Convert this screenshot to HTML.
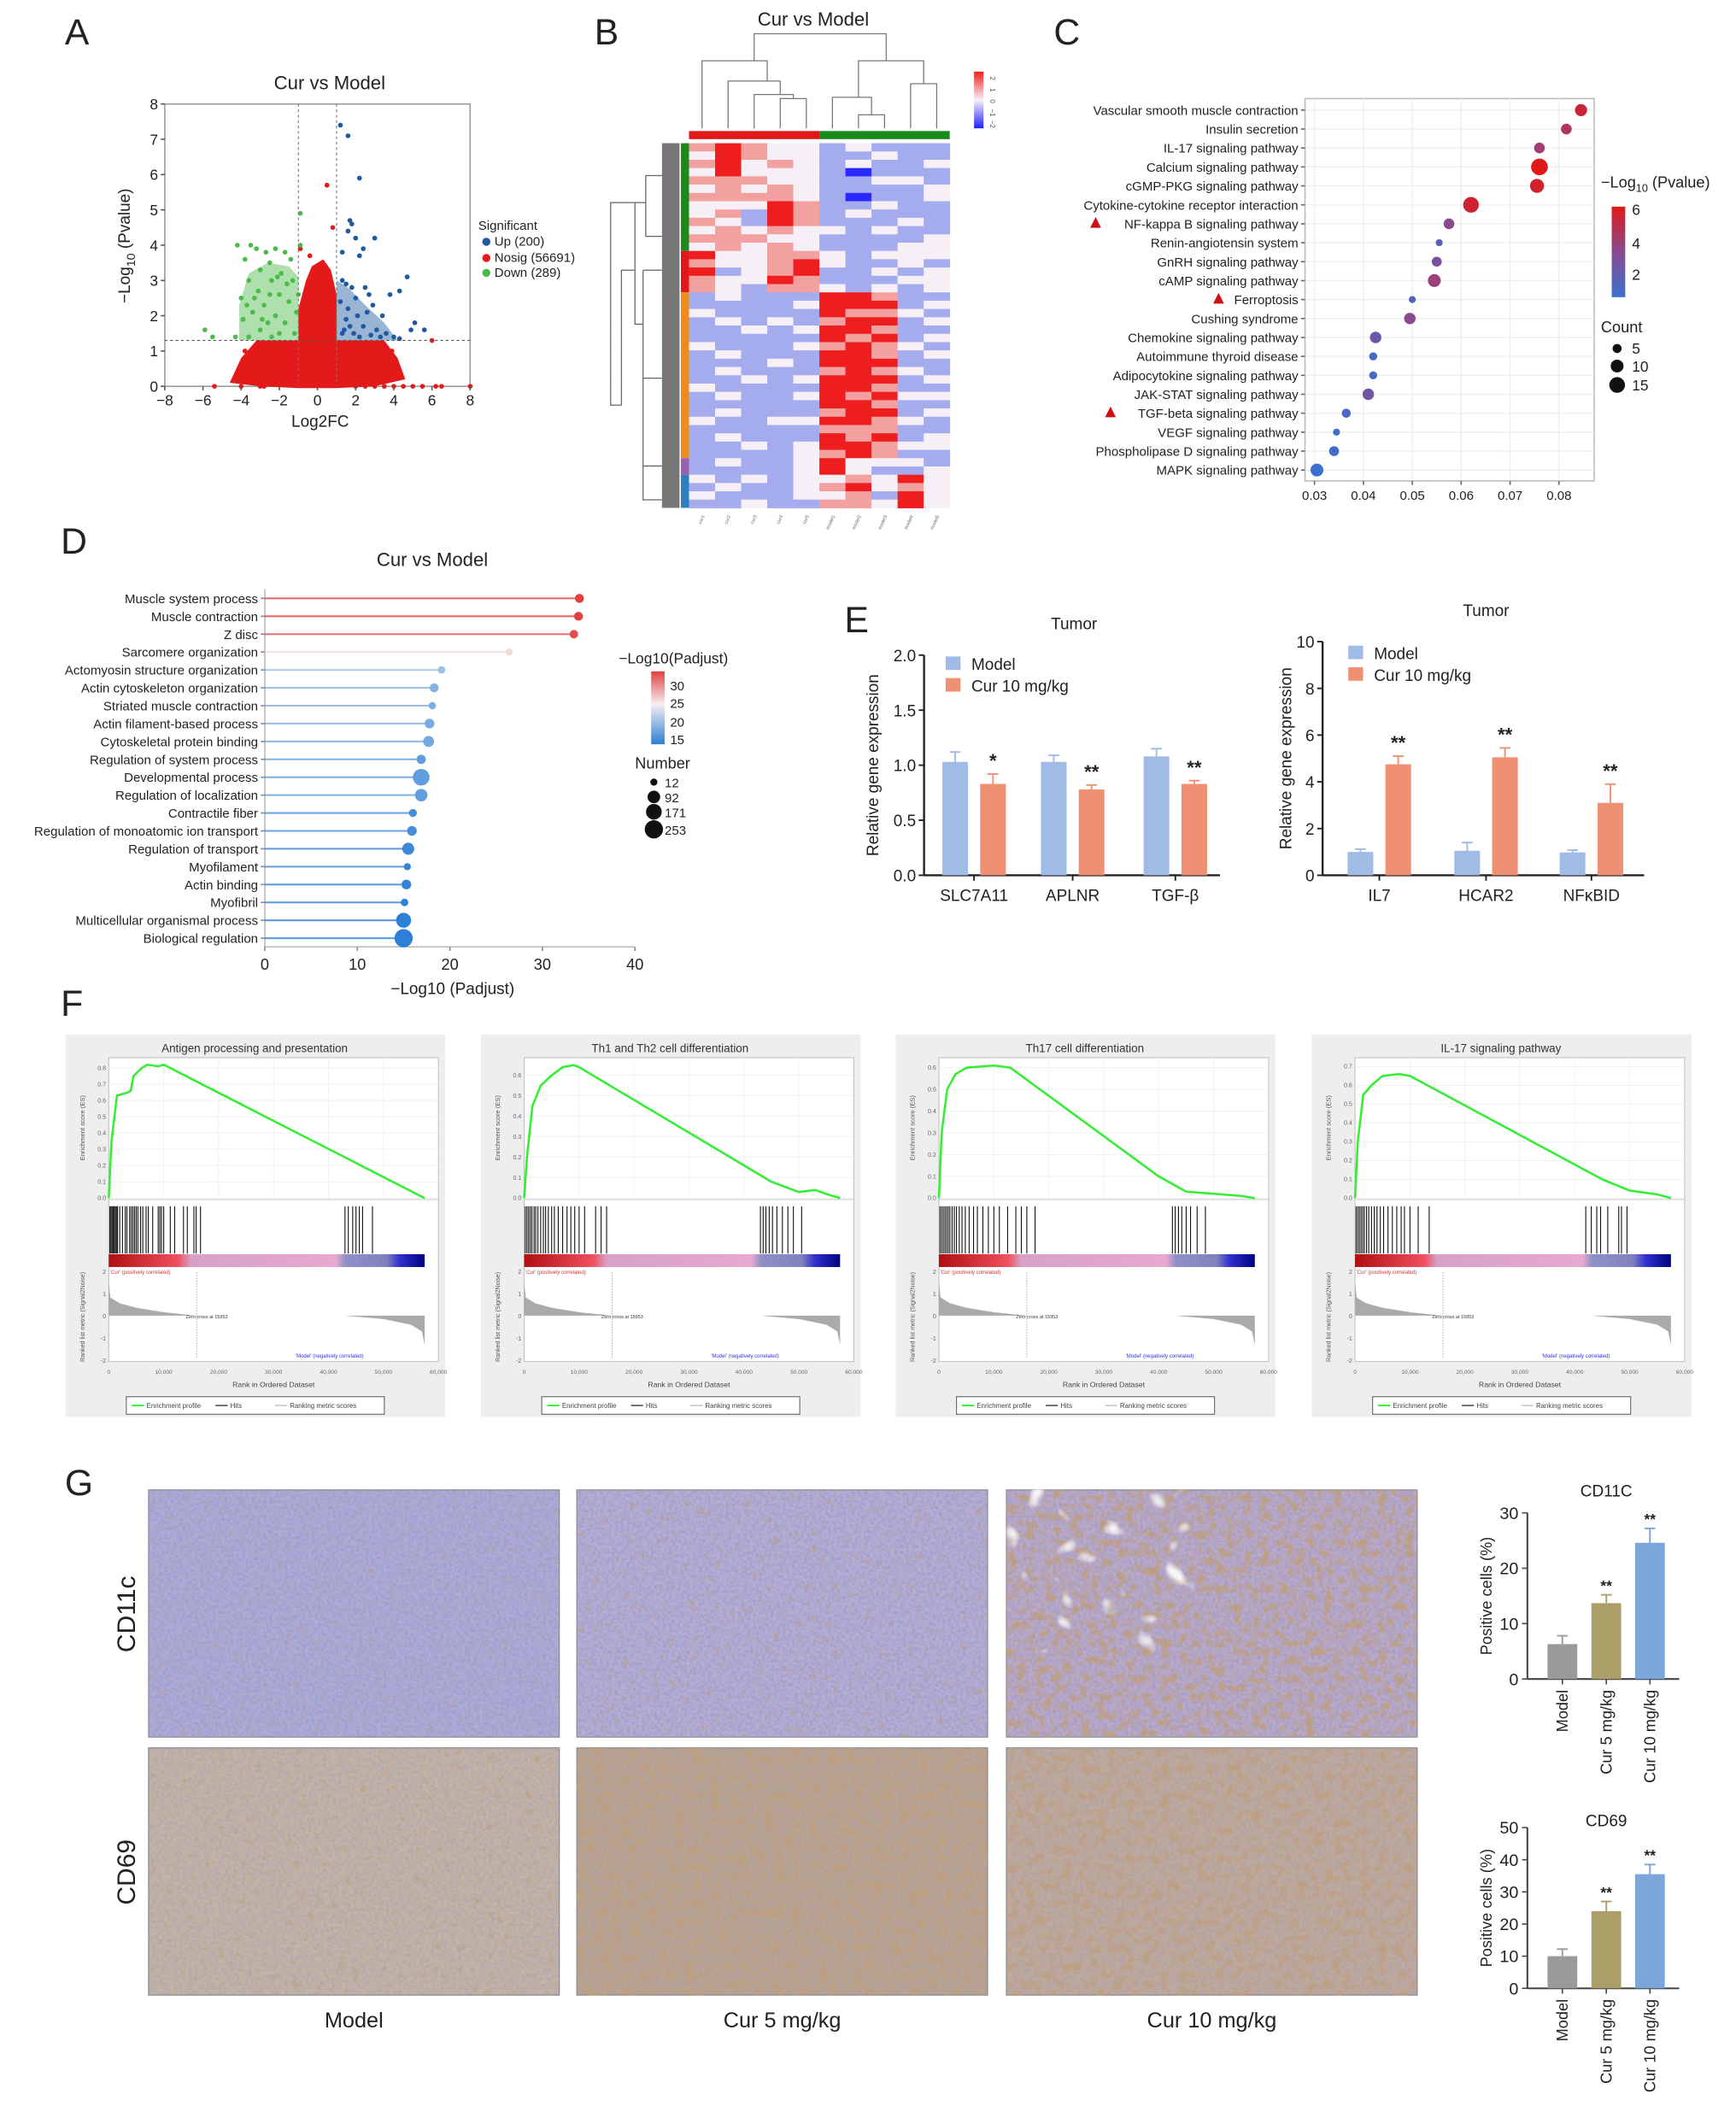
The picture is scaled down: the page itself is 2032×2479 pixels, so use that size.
<!DOCTYPE html>
<html><head><meta charset="utf-8"><title>Figure</title>
<style>html,body{margin:0;padding:0;background:#fff}svg{display:block}text{font-family:"Liberation Sans",Arial,sans-serif}</style>
</head><body>
<svg id="fig" xmlns="http://www.w3.org/2000/svg" width="2032" height="2479" viewBox="0 0 1285 1568" preserveAspectRatio="none">
<defs>
<linearGradient id="gC" x1="0" y1="0" x2="0" y2="1"><stop offset="0" stop-color="#e01818"/><stop offset="0.5" stop-color="#8a4a90"/><stop offset="1" stop-color="#3a70d0"/></linearGradient>
<linearGradient id="gD" x1="0" y1="0" x2="0" y2="1"><stop offset="0" stop-color="#e04040"/><stop offset="0.45" stop-color="#f6eef0"/><stop offset="1" stop-color="#2e7fd6"/></linearGradient>
<linearGradient id="gB" x1="0" y1="0" x2="0" y2="1"><stop offset="0" stop-color="#f02020"/><stop offset="0.5" stop-color="#f6f0f6"/><stop offset="1" stop-color="#2020ff"/></linearGradient>
<linearGradient id="gRank" x1="0" y1="0" x2="1" y2="0"><stop offset="0" stop-color="#b01010"/><stop offset="0.22" stop-color="#f05060"/><stop offset="0.26" stop-color="#d8a0c8"/><stop offset="0.72" stop-color="#e8a8d0"/><stop offset="0.75" stop-color="#9090c8"/><stop offset="0.88" stop-color="#8080c0"/><stop offset="0.92" stop-color="#3030d0"/><stop offset="1" stop-color="#000080"/></linearGradient>
<filter id="fBlue" x="0" y="0" width="100%" height="100%"><feTurbulence type="fractalNoise" baseFrequency="0.45" numOctaves="2" seed="3"/><feColorMatrix values="0 0 0 0 0.3  0 0 0 0 0.3  0 0 0 0 0.6  1.6 0 0 0 -0.55"/></filter>
<filter id="fBrownL" x="0" y="0" width="100%" height="100%"><feTurbulence type="fractalNoise" baseFrequency="0.18" numOctaves="3" seed="7"/><feColorMatrix values="0 0 0 0 0.5  0 0 0 0 0.33  0 0 0 0 0.2  4 0 0 0 -2.4"/></filter>
<filter id="fBrownH" x="0" y="0" width="100%" height="100%"><feTurbulence type="fractalNoise" baseFrequency="0.15" numOctaves="3" seed="11"/><feColorMatrix values="0 0 0 0 0.52  0 0 0 0 0.34  0 0 0 0 0.2  4 0 0 0 -1.9"/></filter>
<filter id="fWhite" x="0" y="0" width="100%" height="100%"><feTurbulence type="fractalNoise" baseFrequency="0.05" numOctaves="2" seed="5"/><feColorMatrix values="0 0 0 0 1  0 0 0 0 1  0 0 0 0 1  6 0 0 0 -3.9"/></filter>
</defs>
</svg>
<script>
// ---------- data arrays ----------
const volcXTicks = [-8,-6,-4,-2,0,2,4,6,8];
const volcYTicks = [0,1,2,3,4,5,6,7,8];
const volcUp = [[1.2,7.4],[1.6,7.1],[2.2,5.9],[1.7,4.7],[1.8,4.6],[1.6,4.4],[2.0,4.2],[3.0,4.2],[2.4,3.9],[1.3,3.8],[2.2,3.7],[4.7,3.1],[1.3,3.0],[1.5,2.9],[1.8,2.8],[2.5,2.8],[2.7,2.6],[3.8,2.6],[4.3,2.7],[2.9,2.3],[1.2,2.4],[1.6,2.2],[2.1,2.0],[3.4,2.0],[5.1,1.8],[4.9,1.6],[5.6,1.6],[1.5,1.9],[2.4,1.7],[3.1,1.6],[1.9,1.5],[2.8,1.45],[3.6,1.5],[1.3,1.5],[2.2,1.4],[4.0,1.4],[4.3,1.35],[1.7,1.7],[2.6,2.1],[1.4,1.6],[3.3,1.4],[2.0,2.5]];
const volcDown = [[-0.9,4.9],[-0.9,4.0],[-4.2,4.0],[-3.5,4.0],[-3.2,3.9],[-2.2,3.9],[-2.7,3.8],[-1.7,3.8],[-3.8,3.6],[-2.5,3.5],[-3.0,3.3],[-1.9,3.2],[-3.6,3.0],[-2.4,3.0],[-1.3,3.0],[-3.1,2.7],[-2.0,2.6],[-4.0,2.5],[-1.5,2.4],[-2.8,2.3],[-3.4,2.1],[-2.2,2.0],[-1.1,2.1],[-3.9,1.9],[-2.6,1.8],[-1.7,1.8],[-3.0,1.6],[-2.0,1.5],[-1.2,1.5],[-3.6,1.4],[-2.4,1.4],[-5.9,1.6],[-5.5,1.4],[-4.3,1.4],[-1.6,2.9],[-2.9,1.9],[-3.3,2.5],[-1.4,3.6],[-2.1,3.1],[-3.7,2.3],[-1.0,2.6],[-2.5,2.6]];
const volcDownEnv = [[-4.1,1.3],[-4.1,2.3],[-3.6,3.2],[-2.6,3.5],[-1.5,3.4],[-1.0,3.1],[-1.0,1.3]];
const volcUpEnv = [[1.0,1.3],[1.0,3.0],[1.6,2.8],[2.5,2.3],[3.5,1.8],[4.2,1.3]];
const volcNosigEnv = [[-4.6,0.1],[-4.0,0.8],[-3.2,1.3],[-1.0,1.3],[-1.0,2.2],[-0.6,3.0],[-0.3,3.4],[0.3,3.6],[0.7,3.3],[1.0,2.6],[1.0,1.3],[3.5,1.3],[4.2,0.8],[4.6,0.2],[3.0,0],[1.0,-0.05],[-1.0,-0.05],[-3.0,0]];
const volcNosig = [[0.5,5.7],[0.8,4.5],[-0.9,3.9],[-0.4,3.7],[0.6,3.2],[6.0,1.3],[-5.4,0],[-4.0,0],[-3.0,0],[-2.8,0],[2.0,0],[2.5,0],[3.0,0],[3.5,0],[4.0,0],[4.5,0],[5.0,0],[5.5,0],[6.2,0],[6.5,0],[8.0,0],[0.2,2.8],[-0.6,2.5],[-3.8,1.0],[3.9,1.0]];

const heatRows = ["3432212111","2432211211","3423212112","2422210111","3332211221","2323211112","3333210112","2224311211","2314312111","3214311121","2323221211","3332211112","2323211122",
"4223321222","3223421121","4123411212","3224311122","3213321212",
"1211144311","1111244412","2111143321","1212134412","1121244311","1111143412","2111234321","1211144312","1112144411","1211134321","1121244412","2111144311","1211243422","1111144311","1211134412","2112244321","1111133311","1211143412","1121244322","1111234311",
"1211242221","1111242112",
"2121223242","1211234232","2111223142","1121133242"];
const heatClusters = [["#1a8a1a",13],["#e01818",5],["#f08a1a",20],["#9a60b0",2],["#2a80c0",4]];
const heatCols = ["cur1","cur2","cur3","cur4","cur5","model1","model2","model3","model4","model5"];

const keggTerms = ["Vascular smooth muscle contraction","Insulin secretion","IL-17 signaling pathway","Calcium signaling pathway","cGMP-PKG signaling pathway","Cytokine-cytokine receptor interaction","NF-kappa B signaling pathway","Renin-angiotensin system","GnRH signaling pathway","cAMP signaling pathway","Ferroptosis","Cushing syndrome","Chemokine signaling pathway","Autoimmune thyroid disease","Adipocytokine signaling pathway","JAK-STAT signaling pathway","TGF-beta signaling pathway","VEGF signaling pathway","Phospholipase D signaling pathway","MAPK signaling pathway"];
const keggRatio = [0.0845,0.0815,0.076,0.076,0.0755,0.062,0.0575,0.0555,0.055,0.0545,0.050,0.0495,0.0425,0.042,0.042,0.041,0.0365,0.0345,0.034,0.0305];
const keggCount = [9,7,7,17,12,15,7,3,6,10,3,8,8,4,4,8,5,3,6,10];
const keggLogP = [5.2,4.2,3.8,6.0,5.5,5.4,3.0,1.5,2.5,3.6,1.2,3.0,2.0,1.0,1.0,2.2,1.0,0.5,0.8,0.5];
const keggXTicks = [0.03,0.04,0.05,0.06,0.07,0.08];

const goTerms = ["Muscle system process","Muscle contraction","Z disc","Sarcomere organization","Actomyosin structure organization","Actin cytoskeleton organization","Striated muscle contraction","Actin filament-based process","Cytoskeletal protein binding","Regulation of system process","Developmental process","Regulation of localization","Contractile fiber","Regulation of monoatomic ion transport","Regulation of transport","Myofilament","Actin binding","Myofibril","Multicellular organismal process","Biological regulation"];
const goValue = [34,33.9,33.4,26.4,19.1,18.3,18.1,17.8,17.7,16.9,16.9,16.9,16.0,15.9,15.5,15.4,15.3,15.1,15.0,15.0];
const goNumber = [30,30,25,12,14,30,14,40,60,35,200,90,20,40,80,12,40,16,150,253];
const goXTicks = [0,10,20,30,40];

const e1Genes = ["SLC7A11","APLNR","TGF-β"];
const e1Model = [1.03,1.03,1.08];
const e1ModelErr = [0.09,0.06,0.07];
const e1Cur = [0.83,0.78,0.83];
const e1CurErr = [0.09,0.04,0.03];
const e1Sig = ["*","**","**"];
const e1Ticks = ["0.0","0.5","1.0","1.5","2.0"];
const e2Genes = ["IL7","HCAR2","NFκBID"];
const e2Model = [1.0,1.05,0.98];
const e2ModelErr = [0.12,0.35,0.1];
const e2Cur = [4.75,5.05,3.1];
const e2CurErr = [0.35,0.4,0.8];
const e2Sig = ["**","**","**"];
const e2Ticks = ["0","2","4","6","8","10"];

const gseaTitles = ["Antigen processing and presentation","Th1 and Th2 cell differentiation","Th17 cell differentiation","IL-17 signaling pathway"];
const gseaYMax = [0.855,0.68,0.64,0.74];
const gseaYTicks = [[0,0.1,0.2,0.3,0.4,0.5,0.6,0.7,0.8],[0,0.1,0.2,0.3,0.4,0.5,0.6],[0,0.1,0.2,0.3,0.4,0.5,0.6],[0,0.1,0.2,0.3,0.4,0.5,0.6,0.7]];
const gseaES = [
 [[0,0],[0.5,0.35],[1.5,0.63],[3.5,0.65],[4,0.66],[4.5,0.75],[6,0.80],[7,0.82],[9,0.81],[10,0.82],[57.5,0]],
 [[0,0],[0.5,0.2],[1.5,0.45],[3,0.55],[5,0.6],[7,0.64],[9,0.65],[10,0.64],[45,0.08],[50,0.03],[53,0.04],[55,0.02],[57.5,0]],
 [[0,0],[0.5,0.3],[1.5,0.5],[3,0.57],[5,0.6],[10,0.61],[13,0.6],[40,0.1],[45,0.03],[55,0.01],[57.5,0]],
 [[0,0],[0.5,0.3],[1.5,0.55],[3,0.6],[5,0.65],[8,0.66],[10,0.65],[45,0.1],[50,0.04],[55,0.02],[57.5,0]]
];
const gseaHits = [
 [0.2,0.4,0.6,0.8,1,1.2,1.4,1.6,2,2.5,3,3.3,3.8,4.1,4.4,4.7,5,5.3,5.8,6.2,6.8,7.2,8,9,9.3,9.6,10,11.2,12,13.6,14.3,15.5,15.9,16.7,43,43.6,44.4,45,45.6,46.2,48],
 [0.2,0.5,0.8,1.1,1.4,1.8,2.1,2.5,3,3.5,3.9,4.4,5,5.5,6.2,7,7.8,8.5,9.2,10,11,13,14,15,43,43.5,44,44.6,45.2,46,47,48,49,50.5],
 [0.2,0.5,0.8,1.1,1.4,1.7,2,2.4,2.8,3.2,3.7,4.2,4.8,5.5,6.3,7,8,9,10,11,12.5,14,15,16,17.5,42.5,43,43.6,44.2,45,45.8,47,48.5],
 [0.2,0.5,0.8,1.1,1.4,1.7,2.1,2.5,3,3.5,4,4.6,5.2,6,6.8,7.6,8.4,9,10,11.5,13.5,42,43,44,44.7,46,48,48.5,49.5]
];
const gseaMetricPos = [[0,1.5],[0.3,0.8],[2,0.55],[5,0.35],[10,0.15],[15.9,0]];
const gseaMetricNeg = [[43,0],[50,-0.15],[55,-0.4],[57,-0.7],[57.5,-1.3]];
const gseaXTicks = ["0","10,000","20,000","30,000","40,000","50,000","60,000"];

const ihcGroups = ["Model","Cur 5 mg/kg","Cur 10 mg/kg"];
const cd11cMean = [6.3,13.7,24.6];
const cd11cErr = [1.5,1.5,2.6];
const cd69Mean = [10,24,35.5];
const cd69Err = [2.2,3,3];
const cd11cTicks = [0,10,20,30];
const cd69Ticks = [0,10,20,30,40,50];

// ---------- helpers ----------
const NS = "http://www.w3.org/2000/svg";
const S = document.getElementById("fig");
function mk(tag, attrs, name, parent) {
  const el = document.createElementNS(NS, tag);
  for (const k in attrs) el.setAttribute(k, attrs[k]);
  
  
  (parent || S).appendChild(el);
  return el;
}
function txt(x, y, s, size, anchor, name, extra) {
  const a = Object.assign({x: x, y: y, "font-size": size, "text-anchor": anchor || "start", fill: "#222"}, extra || {});
  const t = mk("text", a, name);
  t.textContent = s;
  return t;
}
function lerpColor(stops, v) {
  for (let i = 0; i < stops.length - 1; i++) {
    const [a, ca] = stops[i], [b, cb] = stops[i + 1];
    if (v <= b || i === stops.length - 2) {
      let t = Math.max(0, Math.min(1, (v - a) / (b - a)));
      const c = ca.map((c0, j) => Math.round(c0 + (cb[j] - c0) * t));
      return "rgb(" + c.join(",") + ")";
    }
  }
}

// ---------- panel labels ----------
[["A",48,33],["B",440,33],["C",780,33],["D",45,410],["E",625,468],["F",45,752],["G",48,1107]].forEach(p => {
  txt(p[1], p[2], p[0], 27, "start", "panel-label-" + p[0].toLowerCase());
});

// ---------- A: volcano ----------
(function () {
  const X0 = 122, X1 = 348, Y0 = 286, Y1 = 77;
  const xs = v => X0 + (v + 8) / 16 * (X1 - X0);
  const ys = v => Y0 - v / 8 * (Y0 - Y1);
  txt(244, 66, "Cur vs Model", 14, "middle", "volcano-title");
  mk("rect", {x: X0, y: Y1, width: X1 - X0, height: Y0 - Y1, fill: "none", stroke: "#999", "stroke-width": 1}, "volcano-plot-frame");
  const poly = (arr, fill, op, name) => mk("polygon", {points: arr.map(p => xs(p[0]) + "," + ys(p[1])).join(" "), fill: fill, "fill-opacity": op}, name);
  poly(volcNosigEnv, "#e41a1a", 1, "nosig-density");
  poly(volcDownEnv, "#4cbb4c", 0.45, "down-density");
  poly(volcUpEnv, "#1f5aa0", 0.45, "up-density");
  volcNosig.forEach(p => mk("circle", {cx: xs(p[0]), cy: ys(p[1]), r: 1.8, fill: "#e41a1a"}, "nosig-point"));
  volcDown.forEach(p => mk("circle", {cx: xs(p[0]), cy: ys(p[1]), r: 1.8, fill: "#4cbb4c"}, "down-point"));
  volcUp.forEach(p => mk("circle", {cx: xs(p[0]), cy: ys(p[1]), r: 1.8, fill: "#1f5aa0"}, "up-point"));
  [-1, 1].forEach(v => mk("line", {x1: xs(v), x2: xs(v), y1: Y1, y2: Y0, stroke: "#777", "stroke-width": 0.7, "stroke-dasharray": "2,2"}, "fc-threshold-line"));
  mk("line", {x1: X0, x2: X1, y1: ys(1.3), y2: ys(1.3), stroke: "#555", "stroke-width": 0.7, "stroke-dasharray": "2,2"}, "p-threshold-line");
  volcXTicks.forEach(v => { mk("line", {x1: xs(v), x2: xs(v), y1: Y0, y2: Y0 + 3, stroke: "#555"}, "x-tick"); txt(xs(v), Y0 + 14, (v < 0 ? "−" + (-v) : "" + v), 11, "middle", "x-tick-label"); });
  volcYTicks.forEach(v => { mk("line", {x1: X0 - 3, x2: X0, y1: ys(v), y2: ys(v), stroke: "#555"}, "y-tick"); txt(X0 - 5, ys(v) + 4, "" + v, 11, "end", "y-tick-label"); });
  txt(237, 316, "Log2FC", 12, "middle", "x-axis-title");
  const yl = txt(0, 0, "−Log", 12, "middle", "y-axis-title", {transform: "translate(96,182) rotate(-90)"});
  const ts = document.createElementNS(NS, "tspan"); ts.setAttribute("font-size", 9); ts.setAttribute("dy", 4); ts.textContent = "10"; yl.appendChild(ts);
  const ts2 = document.createElementNS(NS, "tspan"); ts2.setAttribute("dy", -4); ts2.textContent = " (Pvalue)"; yl.appendChild(ts2);
  txt(354, 170, "Significant", 9.5, "start", "legend-title");
  [["Up (200)", "#1f5aa0", 182], ["Nosig (56691)", "#e41a1a", 194], ["Down (289)", "#4cbb4c", 205]].forEach(l => {
    mk("circle", {cx: 360, cy: l[2] - 3, r: 3, fill: l[1]}, "legend-marker");
    txt(366, l[2], l[0], 9.5, "start", "legend-entry");
  });
})();

// ---------- B: heatmap ----------
(function () {
  const X0 = 510, X1 = 703, Y0 = 106, Y1 = 376;
  const cw = (X1 - X0) / heatCols.length, rh = (Y1 - Y0) / heatRows.length;
  txt(602, 19, "Cur vs Model", 14, "middle", "heatmap-title");
  const stops = [[0, [40, 40, 255]], [1, [165, 172, 238]], [2, [246, 240, 246]], [3, [242, 160, 160]], [4, [238, 30, 30]]];
  heatRows.forEach((row, i) => {
    for (let j = 0; j < row.length; j++) {
      mk("rect", {x: X0 + j * cw, y: Y0 + i * rh, width: cw + 0.3, height: rh + 0.3, fill: lerpColor(stops, +row[j])}, "heatmap-cell");
    }
  });
  mk("rect", {x: X0, y: 97, width: cw * 5, height: 6, fill: "#e01818"}, "group-bar-cur");
  mk("rect", {x: X0 + cw * 5, y: 97, width: cw * 5, height: 6, fill: "#1a8a1a"}, "group-bar-model");
  let acc = 0;
  heatClusters.forEach(c => {
    mk("rect", {x: 504, y: Y0 + acc * rh, width: 6, height: c[1] * rh, fill: c[0]}, "row-cluster-bar");
    acc += c[1];
  });
  const cx = j => X0 + (j + 0.5) * cw;
  const dd = "M" + cx(0) + ",95 V45 H" + ((cx(1) + cx(4)) / 2) + " V60 M" + cx(1) + ",95 V60 H" + ((cx(2) + cx(4)) / 2) + " V70 M" + cx(2) + ",95 V70 H" + ((cx(3) + cx(4)) / 2) + " V73 M" + cx(3) + ",95 V73 H" + cx(4) + " V95"
    + " M" + ((cx(0) + cx(4)) / 2) + ",45 V25 H656 V45"
    + " M" + cx(5) + ",95 V72 H" + ((cx(6) + cx(7)) / 2) + " V85 M" + cx(6) + ",95 V85 H" + cx(7) + " V95"
    + " M" + ((cx(5) + cx(7)) / 2) + ",72 V45 H" + ((cx(8) + cx(9)) / 2) + " V62 M" + cx(8) + ",95 V62 H" + cx(9) + " V95";
  mk("path", {d: dd, fill: "none", stroke: "#777", "stroke-width": 0.8}, "column-dendrogram");
  mk("rect", {x: 490, y: Y0, width: 13, height: Y1 - Y0, fill: "#555", "fill-opacity": 0.8}, "row-dendrogram-leaves");
  const rd = "M490,130 H478 V175 H490 M478,150 H470 V240 H476 M476,200 H490 M476,200 V280 H490 M470,200 H460 V300 M476,255 V345 H490 M460,300 H452 V150 H470 M476,345 V370 H490";
  mk("path", {d: rd, fill: "none", stroke: "#666", "stroke-width": 0.8}, "row-dendrogram");
  heatCols.forEach((c, j) => {
    txt(0, 0, c, 3.5, "end", "column-label", {transform: "translate(" + (cx(j) + 2) + ",382) rotate(-65)", fill: "#666"});
  });
  mk("rect", {x: 721, y: 53, width: 7, height: 42, fill: "url(#gB)"}, "heatmap-color-key");
  ["2", "1", "0", "−1", "−2"].forEach((s, i) => txt(0, 0, s, 5, "middle", "color-key-label", {transform: "translate(" + 733 + "," + (58 + i * 8.5) + ") rotate(90)", fill: "#555"}));
})();

// ---------- C: KEGG bubble ----------
(function () {
  const X0 = 966, X1 = 1180, Y0 = 73, Y1 = 356;
  const xs = v => 973 + (v - 0.03) * 3620;
  const ys = i => 81.5 + i * (348 - 81.5) / 19;
  mk("rect", {x: X0, y: Y0, width: X1 - X0, height: Y1 - Y0, fill: "#fff", stroke: "#bbb", "stroke-width": 1}, "kegg-plot-frame");
  keggXTicks.forEach(v => mk("line", {x1: xs(v), x2: xs(v), y1: Y0, y2: Y1, stroke: "#eee", "stroke-width": 0.8}, "kegg-grid-v"));
  keggTerms.forEach((t, i) => {
    mk("line", {x1: X0, x2: X1, y1: ys(i), y2: ys(i), stroke: "#eee", "stroke-width": 0.8}, "kegg-grid-h");
    mk("line", {x1: X0 - 3, x2: X0, y1: ys(i), y2: ys(i), stroke: "#666"}, "kegg-y-tick");
    txt(X0 - 5, ys(i) + 3.5, t, 9.5, "end", "kegg-term-label");
  });
  const cstops = [[0.5, [58, 112, 208]], [3, [138, 74, 144]], [6, [224, 24, 24]]];
  keggTerms.forEach((t, i) => {
    mk("circle", {cx: xs(keggRatio[i]), cy: ys(i), r: Math.sqrt(keggCount[i]) * 1.5, fill: lerpColor(cstops, keggLogP[i])}, "kegg-bubble");
  });
  [[6, 811], [10, 902], [16, 822]].forEach(p => mk("polygon", {points: (p[1] - 4) + "," + (ys(p[0]) + 3) + " " + (p[1] + 4) + "," + (ys(p[0]) + 3) + " " + p[1] + "," + (ys(p[0]) - 5), fill: "#d01010"}, "highlight-triangle"));
  keggXTicks.forEach(v => { mk("line", {x1: xs(v), x2: xs(v), y1: Y1, y2: Y1 + 3, stroke: "#666"}, "kegg-x-tick"); txt(xs(v), Y1 + 14, v.toFixed(2), 9.5, "middle", "kegg-x-tick-label"); });
  const lt = txt(1185, 139, "−Log", 11.5, "start", "kegg-color-legend-title");
  const a = document.createElementNS(NS, "tspan"); a.setAttribute("font-size", 8); a.setAttribute("dy", 3); a.textContent = "10"; lt.appendChild(a);
  const b = document.createElementNS(NS, "tspan"); b.setAttribute("dy", -3); b.textContent = " (Pvalue)"; lt.appendChild(b);
  mk("rect", {x: 1193, y: 153, width: 10, height: 67, fill: "url(#gC)"}, "kegg-color-bar");
  [["6", 159], ["4", 184], ["2", 207]].forEach(l => txt(1208, l[1], l[0], 11, "start", "kegg-color-label"));
  txt(1185, 246, "Count", 11.5, "start", "kegg-size-legend-title");
  [[5, 258], [10, 271], [15, 285]].forEach(l => { mk("circle", {cx: 1197, cy: l[1], r: Math.sqrt(l[0]) * 1.5, fill: "#111"}, "kegg-size-marker"); txt(1208, l[1] + 4, "" + l[0], 11, "start", "kegg-size-label"); });
})();

// ---------- D: GO lollipop ----------
(function () {
  const X0 = 196, X1 = 470, Yb = 701;
  const xs = v => X0 + v / 40 * (X1 - X0);
  const ys = i => 443 + i * 13.24;
  txt(320, 419, "Cur vs Model", 14, "middle", "go-title");
  const cstops = [[15, [46, 127, 214]], [20, [176, 205, 234]], [25, [246, 238, 240]], [30, [240, 160, 160]], [34, [224, 64, 64]]];
  mk("line", {x1: X0, x2: X0, y1: 436, y2: Yb, stroke: "#bbb"}, "go-y-axis");
  mk("line", {x1: X0, x2: X1, y1: Yb, y2: Yb, stroke: "#bbb"}, "go-x-axis");
  goTerms.forEach((t, i) => {
    const col = lerpColor(cstops, goValue[i]);
    mk("line", {x1: X0, x2: xs(goValue[i]), y1: ys(i), y2: ys(i), stroke: col, "stroke-width": 1.3, "stroke-opacity": 0.8}, "go-stem");
    mk("circle", {cx: xs(goValue[i]), cy: ys(i), r: 1.5 + Math.sqrt(goNumber[i]) * 0.33, fill: col}, "go-point");
    mk("line", {x1: X0 - 3, x2: X0, y1: ys(i), y2: ys(i), stroke: "#888"}, "go-y-tick");
    txt(X0 - 5, ys(i) + 3.5, t, 9.5, "end", "go-term-label");
  });
  goXTicks.forEach(v => { mk("line", {x1: xs(v), x2: xs(v), y1: Yb, y2: Yb + 3, stroke: "#888"}, "go-x-tick"); txt(xs(v), Yb + 17, "" + v, 11.5, "middle", "go-x-tick-label"); });
  txt(335, 736, "−Log10 (Padjust)", 12, "middle", "go-x-axis-title");
  txt(458, 491, "−Log10(Padjust)", 11, "start", "go-color-legend-title");
  mk("rect", {x: 482, y: 497, width: 10, height: 54, fill: "url(#gD)"}, "go-color-bar");
  [["30", 511], ["25", 524], ["20", 538], ["15", 551]].forEach(l => txt(496, l[1], l[0], 9.5, "start", "go-color-label"));
  txt(470, 569, "Number", 11.5, "start", "go-size-legend-title");
  [[12, 579], [92, 590], [171, 601], [253, 614]].forEach(l => { mk("circle", {cx: 484, cy: l[1], r: 1.5 + Math.sqrt(l[0]) * 0.33, fill: "#111"}, "go-size-marker"); txt(492, l[1] + 4, "" + l[0], 9.5, "start", "go-size-label"); });
})();

// ---------- E: bar charts ----------
function barChart(o) {
  const ys = v => o.Y0 - v / o.max * (o.Y0 - o.Y1);
  txt(o.titleX, o.titleY, "Tumor", 12, "middle", "e-chart-title");
  mk("line", {x1: o.X0, x2: o.X0, y1: o.Y1, y2: o.Y0, stroke: "#222", "stroke-width": 1.5}, "e-y-axis");
  mk("line", {x1: o.X0, x2: o.X1, y1: o.Y0, y2: o.Y0, stroke: "#222", "stroke-width": 1.5}, "e-x-axis");
  o.ticks.forEach((s, i) => { const y = o.Y0 - i / (o.ticks.length - 1) * (o.Y0 - o.Y1); mk("line", {x1: o.X0 - 4, x2: o.X0, y1: y, y2: y, stroke: "#222", "stroke-width": 1.2}, "e-y-tick"); txt(o.X0 - 6, y + 4.5, s, 12, "end", "e-y-tick-label"); });
  o.genes.forEach((g, i) => {
    const c = o.centers[i];
    [[o.model[i], o.modelErr[i], c - 14, "#9fbbe6", "model-bar"], [o.cur[i], o.curErr[i], c + 14, "#f09072", "cur-bar"]].forEach(b => {
      mk("line", {x1: b[2], x2: b[2], y1: ys(b[0]), y2: ys(b[0] + b[1]), stroke: b[3], "stroke-width": 1.2}, "error-bar");
      mk("line", {x1: b[2] - 4, x2: b[2] + 4, y1: ys(b[0] + b[1]), y2: ys(b[0] + b[1]), stroke: b[3], "stroke-width": 1.2}, "error-cap");
      mk("rect", {x: b[2] - 9.5, y: ys(b[0]), width: 19, height: o.Y0 - ys(b[0]), fill: b[3]}, b[4]);
    });
    txt(c + 14, ys(o.cur[i] + o.curErr[i]) - 5, o.sig[i], 14, "middle", "significance-marker", {"font-weight": "bold"});
    mk("line", {x1: c, x2: c, y1: o.Y0, y2: o.Y0 + 4, stroke: "#222", "stroke-width": 1.2}, "e-x-tick");
    txt(c, o.Y0 + 19, g, 12, "middle", "e-x-tick-label");
  });
  txt(0, 0, "Relative gene expression", 12, "middle", "e-y-axis-title", {transform: "translate(" + o.ylabX + "," + ((o.Y0 + o.Y1) / 2) + ") rotate(-90)"});
  mk("rect", {x: o.legX, y: o.legY - 10, width: 11, height: 10, fill: "#9fbbe6"}, "legend-swatch-model");
  txt(o.legX + 19, o.legY, "Model", 12, "start", "legend-entry-model");
  mk("rect", {x: o.legX, y: o.legY + 6, width: 11, height: 10, fill: "#f09072"}, "legend-swatch-cur");
  txt(o.legX + 19, o.legY + 16, "Cur 10 mg/kg", 12, "start", "legend-entry-cur");
}
barChart({X0: 684, X1: 903, Y0: 648, Y1: 485, max: 2, ticks: e1Ticks, genes: e1Genes, centers: [721, 794, 870], model: e1Model, modelErr: e1ModelErr, cur: e1Cur, curErr: e1CurErr, sig: e1Sig, titleX: 795, titleY: 466, ylabX: 650, legX: 700, legY: 496});
barChart({X0: 979, X1: 1217, Y0: 648, Y1: 475, max: 10, ticks: e2Ticks, genes: e2Genes, centers: [1021, 1100, 1178], model: e2Model, modelErr: e2ModelErr, cur: e2Cur, curErr: e2CurErr, sig: e2Sig, titleX: 1100, titleY: 456, ylabX: 956, legX: 998, legY: 488});

// ---------- F: GSEA ----------
[48.5, 356, 663, 971].forEach((x0, p) => {
  const L = x0 + 32, R = x0 + 276;
  const xs = k => L + k / 60 * (R - L);
  const ysE = v => 887 - v / gseaYMax[p] * 103;
  const ysM = m => 974 - m * 16.7;
  mk("rect", {x: x0, y: 766, width: 281, height: 283, fill: "#eeeeee"}, "gsea-panel-background");
  txt(x0 + 140, 779, gseaTitles[p], 8.5, "middle", "gsea-title", {fill: "#333"});
  mk("rect", {x: L, y: 783, width: R - L, height: 225, fill: "#fff", stroke: "#bbb", "stroke-width": 0.6}, "gsea-plot-frame");
  gseaYTicks[p].forEach(v => { mk("line", {x1: L, x2: R, y1: ysE(v), y2: ysE(v), stroke: "#eee", "stroke-width": 0.5}, "gsea-grid"); txt(L - 2, ysE(v) + 1.5, v.toFixed(1), 4.5, "end", "gsea-y-tick-label", {fill: "#666"}); });
  [10, 20, 30, 40, 50].forEach(k => mk("line", {x1: xs(k), x2: xs(k), y1: 783, y2: 888, stroke: "#eee", "stroke-width": 0.5}, "gsea-grid"));
  mk("polyline", {points: gseaES[p].map(q => xs(q[0]) + "," + ysE(q[1])).join(" "), fill: "none", stroke: "#33ee33", "stroke-width": 1.6}, "enrichment-profile");
  mk("line", {x1: L, x2: R, y1: 888, y2: 888, stroke: "#bbb", "stroke-width": 0.5}, "gsea-divider");
  gseaHits[p].forEach(k => mk("line", {x1: xs(k), x2: xs(k), y1: 893, y2: 928, stroke: "#111", "stroke-width": 0.7}, "gsea-hit"));
  mk("rect", {x: L, y: 928.5, width: xs(57.5) - L, height: 9.5, fill: "url(#gRank)"}, "ranked-color-bar");
  const pos = "M" + xs(0) + "," + ysM(0) + " " + gseaMetricPos.map(q => "L" + xs(q[0]) + "," + ysM(q[1])).join(" ") + " Z";
  const neg = "M" + xs(gseaMetricNeg[0][0]) + "," + ysM(0) + " " + gseaMetricNeg.map(q => "L" + xs(q[0]) + "," + ysM(q[1])).join(" ") + " L" + xs(57.5) + "," + ysM(0) + " Z";
  mk("path", {d: pos, fill: "#aaa"}, "ranked-metric-positive");
  mk("path", {d: neg, fill: "#aaa"}, "ranked-metric-negative");
  mk("line", {x1: xs(16), x2: xs(16), y1: 942, y2: 1006, stroke: "#999", "stroke-width": 0.5, "stroke-dasharray": "1,1"}, "zero-cross-line");
  txt(xs(16) - 8, 976, "Zero cross at 15953", 3.5, "start", "zero-cross-label", {fill: "#333"});
  txt(L + 1, 943, "'Cur' (positively correlated)", 3.8, "start", "positive-label", {fill: "#e03030"});
  txt(xs(34), 1005, "'Model' (negatively correlated)", 3.8, "start", "negative-label", {fill: "#3030e0"});
  ["2", "1", "0", "-1", "-2"].forEach((s, i) => txt(L - 2, 943 + i * 16.5, s, 4.5, "end", "metric-tick-label", {fill: "#666"}));
  gseaXTicks.forEach((s, i) => txt(xs(i * 10), 1017, s, 4.2, "middle", "gsea-x-tick-label", {fill: "#666"}));
  txt(x0 + 154, 1027, "Rank in Ordered Dataset", 5.5, "middle", "gsea-x-axis-title", {fill: "#444"});
  txt(0, 0, "Enrichment score (ES)", 4.8, "middle", "gsea-es-axis-title", {transform: "translate(" + (x0 + 14) + ",835) rotate(-90)", fill: "#555"});
  txt(0, 0, "Ranked list metric (Signal2Noise)", 4.5, "middle", "gsea-metric-axis-title", {transform: "translate(" + (x0 + 14) + ",975) rotate(-90)", fill: "#555"});
  mk("rect", {x: x0 + 45, y: 1034, width: 191, height: 13, fill: "#fff", stroke: "#666", "stroke-width": 0.7}, "gsea-legend-box");
  mk("line", {x1: x0 + 49, x2: x0 + 58, y1: 1040.5, y2: 1040.5, stroke: "#33ee33", "stroke-width": 1.2}, "legend-line-es");
  txt(x0 + 60, 1042.5, "Enrichment profile", 5, "start", "gsea-legend-es", {fill: "#444"});
  mk("line", {x1: x0 + 111, x2: x0 + 120, y1: 1040.5, y2: 1040.5, stroke: "#222", "stroke-width": 0.8}, "legend-line-hits");
  txt(x0 + 122, 1042.5, "Hits", 5, "start", "gsea-legend-hits", {fill: "#444"});
  mk("line", {x1: x0 + 155, x2: x0 + 164, y1: 1040.5, y2: 1040.5, stroke: "#bbb", "stroke-width": 0.8}, "legend-line-rank");
  txt(x0 + 166, 1042.5, "Ranking metric scores", 5, "start", "gsea-legend-rank", {fill: "#444"});
});

// ---------- G: IHC images ----------
(function () {
  const xsI = [110, 427, 745], ysI = [1103, 1294];
  const base = [["#aeacd4", "#b6aed2", "#bcaac4"], ["#c4b4a2", "#bba48c", "#c0aa98"]];
  const brown = [["fBrownL", "fBrownL", "fBrownH"], ["fBrownL", "fBrownH", "fBrownH"]];
  const bop = [[0.35, 0.55, 0.85], [0.6, 0.8, 0.75]];
  ysI.forEach((y, r) => xsI.forEach((x, c) => {
    mk("rect", {x: x, y: y, width: 304, height: 183, fill: base[r][c], stroke: "#888", "stroke-width": 0.8}, "ihc-image-base");
    mk("rect", {x: x, y: y, width: 304, height: 183, filter: "url(#fBlue)", opacity: r === 0 ? 0.9 : 0.55}, "ihc-hematoxylin-texture");
    mk("rect", {x: x, y: y, width: 304, height: 183, filter: "url(#" + brown[r][c] + ")", opacity: bop[r][c]}, "ihc-dab-stain");
    if (r === 0 && c === 2) mk("rect", {x: x, y: y, width: 150, height: 120, filter: "url(#fWhite)", opacity: 0.9}, "ihc-vacuoles");
  }));
  txt(0, 0, "CD11c", 19, "middle", "row-label-cd11c", {transform: "translate(100,1195) rotate(-90)"});
  txt(0, 0, "CD69", 19, "middle", "row-label-cd69", {transform: "translate(100,1386) rotate(-90)"});
  ihcGroups.forEach((g, i) => txt(xsI[i] + 152, 1501, g, 16, "middle", "column-label"));
})();

// ---------- G: quantification bars ----------
function ihcBar(o) {
  const ys = v => o.Y0 - v / o.max * (o.Y0 - o.Y1);
  const centers = [1156.5, 1189, 1221.3], cols = ["#9a9a9a", "#ac9e68", "#7ba6da"];
  txt(1189, o.titleY, o.title, 12, "middle", "ihc-bar-title");
  mk("line", {x1: 1130.6, x2: 1130.6, y1: o.Y1, y2: o.Y0, stroke: "#444", "stroke-width": 1.3}, "ihc-y-axis");
  mk("line", {x1: 1130.6, x2: 1243, y1: o.Y0, y2: o.Y0, stroke: "#444", "stroke-width": 1.3}, "ihc-x-axis");
  o.ticks.forEach(v => { mk("line", {x1: 1126.6, x2: 1130.6, y1: ys(v), y2: ys(v), stroke: "#444"}, "ihc-y-tick"); txt(1124, ys(v) + 4.5, "" + v, 12.5, "end", "ihc-y-tick-label"); });
  ihcGroups.forEach((g, i) => {
    const top = o.mean[i] + o.err[i];
    mk("line", {x1: centers[i], x2: centers[i], y1: ys(o.mean[i]), y2: ys(top), stroke: cols[i], "stroke-width": 1.2}, "ihc-error-bar");
    mk("line", {x1: centers[i] - 4, x2: centers[i] + 4, y1: ys(top), y2: ys(top), stroke: cols[i], "stroke-width": 1.2}, "ihc-error-cap");
    mk("rect", {x: centers[i] - 11, y: ys(o.mean[i]), width: 22, height: o.Y0 - ys(o.mean[i]), fill: cols[i]}, "ihc-bar");
    if (i > 0) txt(centers[i], ys(top) - 3, "**", 11, "middle", "ihc-significance", {"font-weight": "bold"});
    mk("line", {x1: centers[i], x2: centers[i], y1: o.Y0, y2: o.Y0 + 4, stroke: "#444"}, "ihc-x-tick");
    txt(0, 0, g, 11.5, "end", "ihc-x-label", {transform: "translate(" + (centers[i] + 4) + "," + (o.Y0 + 8) + ") rotate(-90)"});
  });
  txt(0, 0, "Positive cells (%)", 11.5, "middle", "ihc-y-axis-title", {transform: "translate(1104," + ((o.Y0 + o.Y1) / 2) + ") rotate(-90)"});
}
ihcBar({title: "CD11C", titleY: 1108, Y0: 1243, Y1: 1120, max: 30, ticks: cd11cTicks, mean: cd11cMean, err: cd11cErr});
ihcBar({title: "CD69", titleY: 1352, Y0: 1472, Y1: 1353, max: 50, ticks: cd69Ticks, mean: cd69Mean, err: cd69Err});
</script>
</body></html>
